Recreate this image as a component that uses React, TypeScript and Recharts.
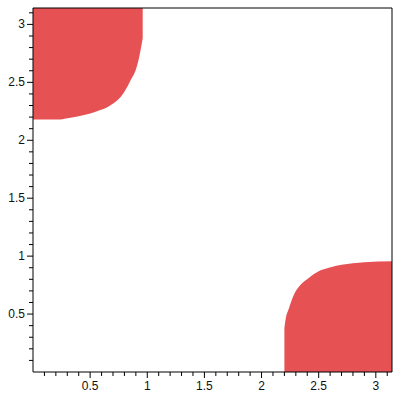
import React from 'react';
import { ComposedChart, Area, XAxis, YAxis, ReferenceLine } from 'recharts';

const PI = Math.PI;

// top-left region: lower boundary read along x
const cornerX = [0, 0.24, 0.3, 0.41, 0.56, 0.675, 0.78, 0.85, 0.91, 0.94, 0.96];
const cornerLow = [2.18, 2.18, 2.19, 2.21, 2.25, 2.3, 2.39, 2.51, 2.64, 2.77, 2.88];

// bottom-right region: upper boundary read along x
const edgeX = [2.2, 2.21, 2.24, 2.28, 2.34, 2.41, 2.5, 2.59, 2.7, 2.9, 3.1416];
const edgeHigh = [0.38, 0.45, 0.55, 0.66, 0.75, 0.81, 0.87, 0.9, 0.925, 0.948, 0.955];

const majorTicks = [0.5, 1, 1.5, 2, 2.5, 3];
const allTicks = [
  0.1, 0.2, 0.3, 0.4, 0.5, 0.6, 0.7, 0.8, 0.9, 1,
  1.1, 1.2, 1.3, 1.4, 1.5, 1.6, 1.7, 1.8, 1.9, 2,
  2.1, 2.2, 2.3, 2.4, 2.5, 2.6, 2.7, 2.8, 2.9, 3, 3.1,
];

const data = [
  ...cornerX.map((x, i) => ({ x, corner: [cornerLow[i], PI] })),
  ...edgeX.map((x, i) => ({ x, edge: [0, edgeHigh[i]] })),
];

const fill = '#e65153';
const font = { fontFamily: 'Liberation Sans', fontSize: 12, fill: '#111' };

const XTick = (props: any) => {
  const { x, y, payload } = props;
  const major = majorTicks.includes(payload.value);
  return (
    <g>
      <line x1={x} y1={y} x2={x} y2={y + (major ? 6 : 4)} stroke="#000" />
      {major && (
        <text x={x} y={y + 18} textAnchor="middle" {...font}>
          {payload.value}
        </text>
      )}
    </g>
  );
};

const YTick = (props: any) => {
  const { x, y, payload } = props;
  const major = majorTicks.includes(payload.value);
  return (
    <g>
      <line x1={x} y1={y} x2={x - (major ? 6 : 4)} y2={y} stroke="#000" />
      {major && (
        <text x={x - 8} y={y + 4} textAnchor="end" {...font}>
          {payload.value}
        </text>
      )}
    </g>
  );
};

const App = () => {
  return (
    <div style={{ position: 'absolute', left: 0, top: 0, width: 400, height: 400, background: '#fff' }}>
      <ComposedChart width={400} height={400} data={data} margin={{ top: 8, right: 8, bottom: 0, left: 0 }}>
        <XAxis
          dataKey="x"
          type="number"
          domain={[0, PI]}
          allowDataOverflow
          ticks={allTicks}
          interval={0}
          tick={<XTick />}
          tickLine={false}
          tickSize={0}
          tickMargin={0}
          height={28}
          axisLine={{ stroke: '#000' }}
        />
        <YAxis
          type="number"
          domain={[0, PI]}
          allowDataOverflow
          ticks={allTicks}
          interval={0}
          tick={<YTick />}
          tickLine={false}
          tickSize={0}
          tickMargin={0}
          width={33}
          axisLine={{ stroke: '#000' }}
        />
        <Area
          dataKey="corner"
          type="monotoneX"
          stroke="none"
          fill={fill}
          fillOpacity={1}
          isAnimationActive={false}
          dot={false}
          activeDot={false}
        />
        <Area
          dataKey="edge"
          type="monotoneX"
          stroke="none"
          fill={fill}
          fillOpacity={1}
          isAnimationActive={false}
          dot={false}
          activeDot={false}
        />
        <ReferenceLine y={PI} stroke="#000" />
        <ReferenceLine x={PI} stroke="#000" />
      </ComposedChart>
    </div>
  );
};

export default App;
